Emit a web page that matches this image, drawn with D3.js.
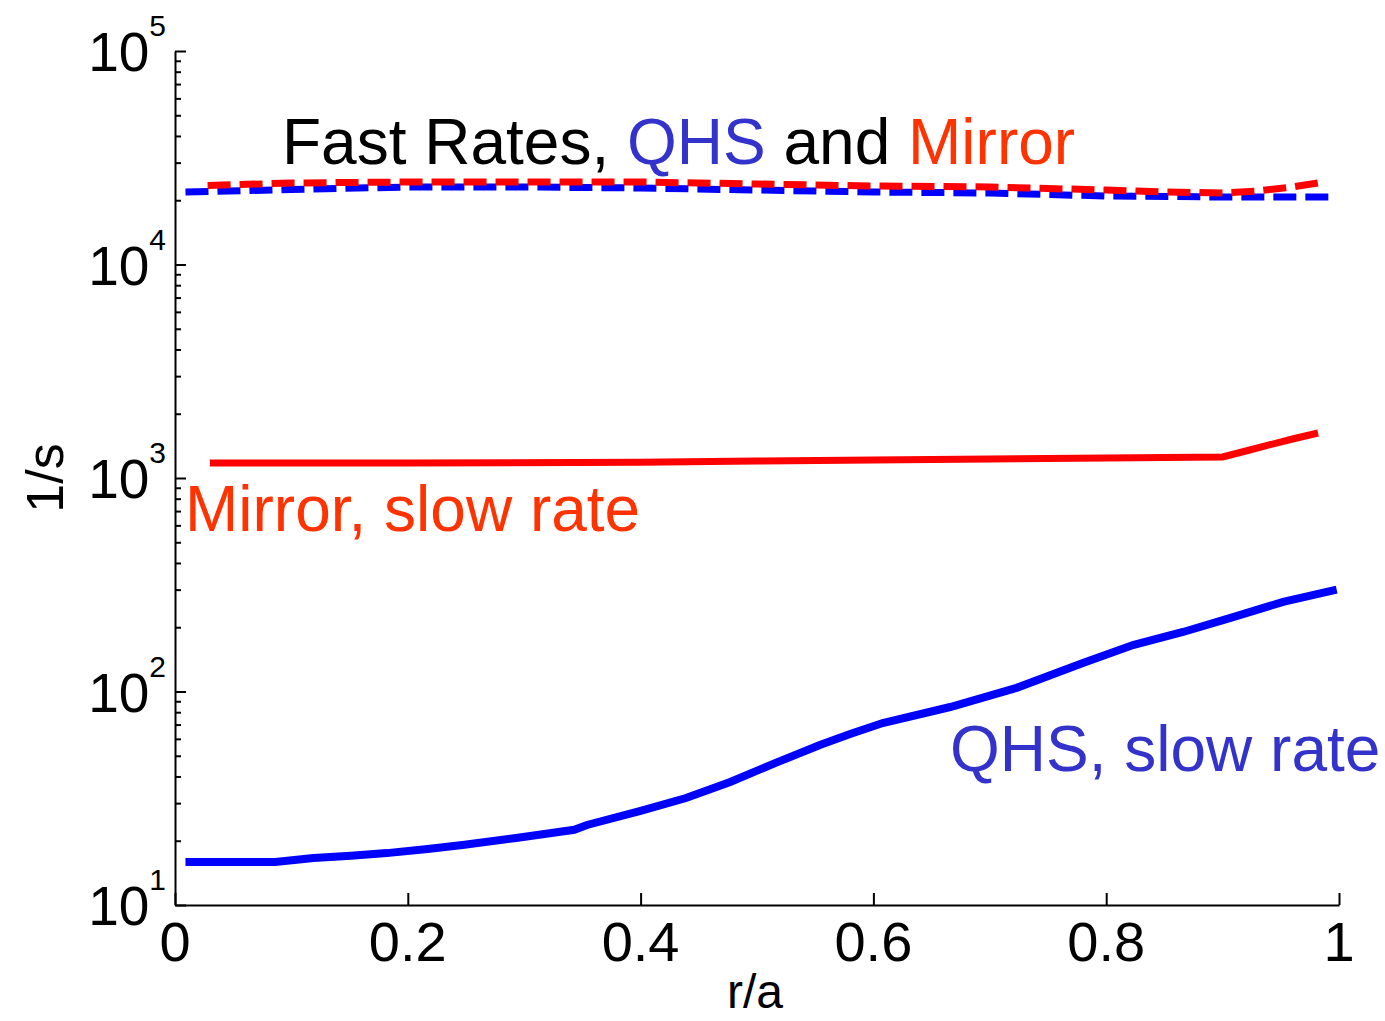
<!DOCTYPE html>
<html>
<head>
<meta charset="utf-8">
<script src="https://cdn.jsdelivr.net/npm/d3@7"></script>
<style>
  html, body { margin: 0; padding: 0; background: #fff; }
  svg { display: block; }
  text { font-family: "Liberation Sans", Arial, Helvetica, sans-serif; }
</style>
</head>
<body>
<svg id="chart" width="1385" height="1021"></svg>
<script>
// Radial position r/a for each curve
const qhsSlowR = [0.009, 0.086, 0.119, 0.151, 0.182, 0.217, 0.247, 0.293, 0.343, 0.354, 0.400,
                  0.439, 0.477, 0.516, 0.554, 0.580, 0.608, 0.666, 0.723, 0.780, 0.823, 0.866,
                  0.909, 0.952, 0.998];
// QHS slow rate (1/s)
const qhsSlowRate = [15.9, 15.9, 16.6, 17.0, 17.5, 18.3, 19.1, 20.6, 22.5, 23.7, 27.6,
                     31.7, 37.7, 46.3, 56.2, 63.2, 71.2, 84.6, 104, 136, 165, 190,
                     223, 263, 300];

const mirrorSlowR = [0.030, 0.200, 0.400, 0.500, 0.600, 0.700, 0.800, 0.900, 0.920, 0.940, 0.960, 0.982];
// Mirror slow rate (1/s)
const mirrorSlowRate = [1176, 1176, 1185, 1201, 1214, 1227, 1241, 1254, 1338, 1428, 1523, 1625];

const qhsFastR = [0.009, 0.100, 0.200, 0.300, 0.400, 0.500, 0.600, 0.700, 0.800, 0.900, 0.995];
// QHS fast rate (1/s)
const qhsFastRate = [21860, 22450, 23070, 23070, 22820, 22330, 21860, 21620, 20930, 20710, 20710];

const mirrorFastR = [0.028, 0.100, 0.200, 0.300, 0.400, 0.500, 0.600, 0.700, 0.800, 0.850, 0.900,
                     0.930, 0.960, 0.982];
// Mirror fast rate (1/s)
const mirrorFastRate = [23440, 24080, 24350, 24350, 24350, 23820, 23320, 23070, 22330, 21860, 21620,
                        22100, 23070, 24080];

// Axis ticks and labels
const xTickValues = [0, 0.2, 0.4, 0.6, 0.8, 1];
const xTickLabels = ["0", "0.2", "0.4", "0.6", "0.8", "1"];
const yTickValues = [10, 100, 1000, 10000, 100000];
const yTickExponents = ["1", "2", "3", "4", "5"];

const svg = d3.select("#chart");

const x = d3.scaleLinear().domain([0, 1]).range([175, 1339]);
const y = d3.scaleLog().domain([10, 100000]).range([905, 51]);

const zip = (rs, vs) => rs.map((r, i) => [r, vs[i]]);
const line = d3.line().x(d => x(d[0])).y(d => y(d[1]));

// Curves: fast rates dashed, slow rates solid
const curves = [
  { data: zip(qhsFastR, qhsFastRate), color: "#0000ff", width: 7, dash: "23,9" },
  { data: zip(mirrorFastR, mirrorFastRate), color: "#ff0000", width: 7, dash: "23,9" },
  { data: zip(mirrorSlowR, mirrorSlowRate), color: "#ff0000", width: 7, dash: null },
  { data: zip(qhsSlowR, qhsSlowRate), color: "#0000ff", width: 8, dash: null }
];

svg.append("g").selectAll("path")
  .data(curves)
  .join("path")
  .attr("d", d => line(d.data))
  .attr("fill", "none")
  .attr("stroke", d => d.color)
  .attr("stroke-width", d => d.width)
  .attr("stroke-dasharray", d => d.dash)
  .attr("stroke-linejoin", "miter");

// X axis with inward ticks
const xAxis = svg.append("g")
  .attr("transform", "translate(0,905)")
  .call(d3.axisBottom(x).tickValues(xTickValues).tickSizeInner(-12).tickSizeOuter(0).tickFormat(""));
xAxis.select(".domain").attr("stroke", "#000").attr("stroke-width", 2);
xAxis.selectAll(".tick line").attr("stroke", "#000").attr("stroke-width", 2);

svg.append("g").selectAll("text")
  .data(xTickValues)
  .join("text")
  .attr("x", d => x(d))
  .attr("y", 961)
  .attr("text-anchor", "middle")
  .attr("font-size", 56)
  .attr("fill", "#000")
  .text((d, i) => xTickLabels[i]);

// Y axis: minor ticks then major ticks, all pointing inward
const minorTicks = y.ticks().filter(v => !yTickValues.includes(v));
const yMinor = svg.append("g")
  .attr("transform", "translate(175,0)")
  .call(d3.axisLeft(y).tickValues(minorTicks).tickSizeInner(-6).tickSizeOuter(0).tickFormat(""));
yMinor.select(".domain").remove();
yMinor.selectAll(".tick line").attr("stroke", "#000").attr("stroke-width", 2);

const yMajor = svg.append("g")
  .attr("transform", "translate(175,0)")
  .call(d3.axisLeft(y).tickValues(yTickValues).tickSizeInner(-11).tickSizeOuter(0).tickFormat(""));
yMajor.select(".domain").attr("stroke", "#000").attr("stroke-width", 2);
yMajor.selectAll(".tick line").attr("stroke", "#000").attr("stroke-width", 2);

const yLabels = svg.append("g").selectAll("text")
  .data(yTickValues)
  .join("text")
  .attr("x", 166)
  .attr("y", d => y(d) + 20)
  .attr("text-anchor", "end")
  .attr("font-size", 55)
  .attr("fill", "#000");
yLabels.append("tspan").text("10");
yLabels.append("tspan")
  .attr("font-size", 30)
  .attr("dy", -35)
  .text((d, i) => yTickExponents[i]);

// Axis titles
svg.append("text")
  .attr("transform", "translate(63,478) rotate(-90)")
  .attr("text-anchor", "middle")
  .attr("font-size", 52)
  .attr("fill", "#000")
  .text("1/s");

svg.append("text")
  .attr("x", 755)
  .attr("y", 1008)
  .attr("text-anchor", "middle")
  .attr("font-size", 48)
  .attr("fill", "#000")
  .text("r/a");

// In-plot annotations
const title = svg.append("text")
  .attr("x", 282)
  .attr("y", 164)
  .attr("font-size", 64)
  .attr("fill", "#000");
title.append("tspan").text("Fast Rates, ");
title.append("tspan").attr("fill", "#3333cc").text("QHS");
title.append("tspan").text(" and ");
title.append("tspan").attr("fill", "#ff3300").text("Mirror");

svg.append("text")
  .attr("x", 185)
  .attr("y", 531)
  .attr("font-size", 64)
  .attr("fill", "#ff3300")
  .text("Mirror, slow rate");

svg.append("text")
  .attr("x", 950)
  .attr("y", 771)
  .attr("font-size", 64)
  .attr("fill", "#3333cc")
  .text("QHS, slow rate");
</script>
</body>
</html>
